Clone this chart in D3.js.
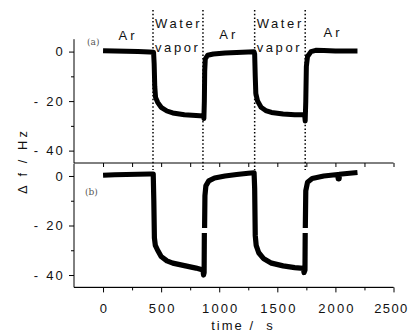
<!DOCTYPE html>
<html>
<head>
<meta charset="utf-8">
<script src="https://cdn.jsdelivr.net/npm/d3@7"></script>
<style>
  body { margin: 0; background: #fff; }
  svg text { font-family: "Liberation Sans", Arial, sans-serif; fill: #111; }
</style>
</head>
<body>
<div id="chart"></div>
<script>
// time (s) and frequency shift (Hz)
var timeA = [0, 100, 200, 300, 400, 435, 440, 445, 452, 470, 500, 550, 600, 700, 800, 865, 868, 872, 875, 880, 900, 950, 1050, 1200, 1300, 1305, 1310, 1315, 1330, 1360, 1400, 1450, 1550, 1650, 1735, 1740, 1745, 1750, 1760, 1790, 1830, 1900, 2000, 2100, 2190];
var shiftA = [0.3, 0.2, 0.1, 0, -0.2, -0.3, -5, -14, -18.5, -20.5, -22.5, -24, -24.8, -25.5, -25.8, -26, -27, -20, -8, -3, -1.5, -1, -0.6, -0.3, -0.1, -1, -10, -17, -20, -22.5, -23.8, -24.6, -25.2, -25.5, -25.5, -28, -20, -6, -2, 0, 0.5, 0.4, 0.2, 0.2, 0.2];

var timeB = [0, 100, 200, 300, 400, 432, 437, 442, 450, 470, 500, 550, 600, 700, 800, 860, 865, 870, 872, null, 874, 877, 885, 910, 960, 1050, 1150, 1250, 1300, 1305, 1310, 1318, 1340, 1380, 1450, 1550, 1650, 1725, 1730, 1738, 1740, null, 1741, 1745, 1760, 1800, 1900, 2000, 2022, 2024, 2032, 2034, 2100, 2190];
var shiftB = [0.3, 0.5, 0.6, 0.7, 0.8, 0.8, -10, -25, -28, -30, -32.5, -34.3, -35.2, -36.2, -37.2, -38, -40, -39, -23, null, -21, -8, -4, -2, -0.8, 0, 0.6, 1.1, 1.3, -5, -24, -28, -31, -33.3, -35.2, -36.3, -37, -37.3, -39, -38, -23, null, -21, -6, -2.5, -1, 0, 0.5, 0.6, -1.2, -1.2, 0.7, 1, 1.4];

var switchTimes = [430, 860, 1305, 1740];
var arPhases = [[0, 430], [860, 1305], [1740, 2220]];
var arLabel = "Ar";
var waterLabel = ["Water", "vapor"];
var waterStarts = [430, 1305];

var xTicks = [0, 500, 1000, 1500, 2000, 2500];
var xMinor = [250, 750, 1250, 1750, 2250];
var yTicks = [0, -20, -40];
var yMinor = [-10, -30];

var width = 412, height = 333;
var svg = d3.select("#chart").append("svg")
  .attr("width", width).attr("height", height);

var x = d3.scaleLinear().domain([-250, 2500]).range([74, 393.5]);
var yA = d3.scaleLinear().domain([-45, 5]).range([163, 39.2]);
var yB = d3.scaleLinear().domain([-45, 5]).range([287.4, 163.6]);

function fmt(d) { return d < 0 ? "- " + Math.abs(d) : "" + d; }

function yAxis(scale) {
  var g = svg.append("g").attr("transform", "translate(74,0)");
  g.call(d3.axisLeft(scale).tickValues(yTicks).tickFormat(fmt).tickSize(5).tickPadding(4));
  g.append("g").call(d3.axisLeft(scale).tickValues(yMinor).tickFormat("").tickSize(3));
  g.selectAll(".domain").remove();
  g.append("line").attr("y1", scale.range()[0]).attr("y2", scale.range()[1]).attr("stroke", "#000");
  g.selectAll("text").style("font-size", "13px").style("letter-spacing", "2.2px");
  return g;
}
yAxis(yA);
yAxis(yB);

// middle axis, ticks hanging into lower panel
var mid = svg.append("g").attr("transform", "translate(0,163)");
mid.call(d3.axisBottom(x).tickValues(xTicks.concat(xMinor)).tickFormat("").tickSize(4));
mid.select(".domain").attr("d", "M74,0H393.5");

var bot = svg.append("g").attr("transform", "translate(0,287.4)");
bot.call(d3.axisBottom(x).tickValues(xTicks).tickFormat(d3.format("d")).tickSize(5).tickPadding(11));
bot.append("g").call(d3.axisBottom(x).tickValues(xMinor).tickFormat("").tickSize(3));
bot.selectAll(".domain").attr("d", "M74,0H393.5");
bot.selectAll("text").style("font-size", "13px").style("letter-spacing", "2.1px").attr("dx", "1px");
// keep the last label inside the window
bot.selectAll(".tick text").filter(d => d === 2500)
  .style("letter-spacing", "1.4px").attr("dx", "-2.5px");

// switching lines
svg.selectAll(".switch").data(switchTimes).enter().append("line")
  .attr("x1", d => x(d)).attr("x2", d => x(d))
  .attr("y1", 10).attr("y2", 170)
  .attr("stroke", "#000").attr("stroke-width", 1.5)
  .attr("stroke-dasharray", "1.5,2.2");

// curves
function series(t, v) {
  return t.map((d, i) => ({ t: d, v: v[i] }));
}
var lineA = d3.line().defined(d => d.t !== null).x(d => x(d.t)).y(d => yA(d.v));
var lineB = d3.line().defined(d => d.t !== null).x(d => x(d.t)).y(d => yB(d.v));

svg.append("path").datum(series(timeA, shiftA)).attr("d", lineA)
  .attr("fill", "none").attr("stroke", "#000").attr("stroke-width", 5)
  .attr("stroke-linejoin", "round");
svg.append("path").datum(series(timeB, shiftB)).attr("d", lineB)
  .attr("fill", "none").attr("stroke", "#000").attr("stroke-width", 5.2)
  .attr("stroke-linejoin", "round");

// phase labels
svg.selectAll(".ar").data(arPhases).enter().append("text")
  .attr("x", d => x((d[0] + d[1]) / 2)).attr("y", (d, i) => 40 - i * 1.5)
  .attr("text-anchor", "middle")
  .style("font-size", "13px").style("letter-spacing", "3px")
  .text(arLabel);
waterStarts.forEach(function (t) {
  waterLabel.forEach(function (w, i) {
    svg.append("text")
      .attr("x", x(t) + 2).attr("y", 28 + i * 24)
      .style("font-size", "13px").style("letter-spacing", "2.6px")
      .text(w);
  });
});

// panel tags
svg.append("text").attr("x", 87).attr("y", 45).text("(a)")
  .style("font-family", "'DejaVu Serif', serif").style("font-size", "9px").style("fill", "#555");
svg.append("text").attr("x", 85).attr("y", 195).text("(b)")
  .style("font-family", "'DejaVu Serif', serif").style("font-size", "9px").style("fill", "#555");

// axis titles
svg.append("text")
  .attr("transform", "translate(27,161) rotate(-90)")
  .attr("text-anchor", "middle")
  .style("font-size", "13px").style("letter-spacing", "3px")
  .text("Δ f / Hz");
svg.append("text")
  .attr("x", 243).attr("y", 330)
  .attr("text-anchor", "middle")
  .attr("xml:space", "preserve").style("white-space", "pre")
  .style("font-size", "13px").style("letter-spacing", "2px")
  .text("time /  s");
</script>
</body>
</html>
